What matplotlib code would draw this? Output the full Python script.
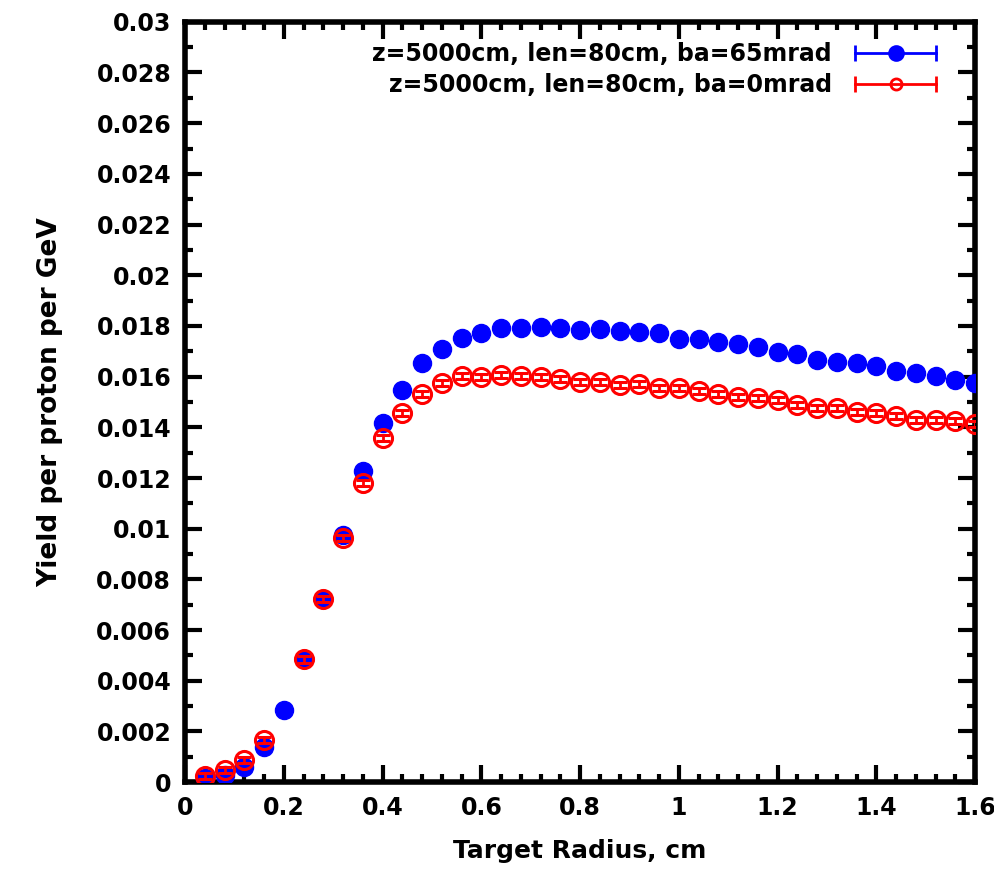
import matplotlib
matplotlib.use('Agg')
import numpy as np
import matplotlib.pyplot as plt
from matplotlib.lines import Line2D
from matplotlib.legend_handler import HandlerLine2D, HandlerTuple
from matplotlib.ticker import MultipleLocator, FuncFormatter

# target radius [cm]
radius = [0.04, 0.08, 0.12, 0.16, 0.20, 0.24, 0.28, 0.32, 0.36, 0.40,
          0.44, 0.48, 0.52, 0.56, 0.60, 0.64, 0.68, 0.72, 0.76, 0.80,
          0.84, 0.88, 0.92, 0.96, 1.00, 1.04, 1.08, 1.12, 1.16, 1.20,
          1.24, 1.28, 1.32, 1.36, 1.40, 1.44, 1.48, 1.52, 1.56, 1.60]

# yield per proton per GeV, ba=65mrad
yield_65 = [0.00015, 0.00028, 0.00058, 0.00139, 0.00284, 0.00484, 0.00721, 0.00975, 0.01229, 0.01416,
            0.01547, 0.01653, 0.01709, 0.01751, 0.01771, 0.01791, 0.01791, 0.01795, 0.01791, 0.01783,
            0.01787, 0.01780, 0.01778, 0.01771, 0.01748, 0.01748, 0.01736, 0.01728, 0.01718, 0.01696,
            0.01689, 0.01666, 0.01659, 0.01653, 0.01642, 0.01624, 0.01613, 0.01603, 0.01587, 0.01574]

# yield per proton per GeV, ba=0mrad (no point at 0.20)
yield_0 = [0.00024, 0.00047, 0.00087, 0.00168, np.nan, 0.00484, 0.00721, 0.00962, 0.01182, 0.01357,
           0.01455, 0.01530, 0.01574, 0.01603, 0.01600, 0.01607, 0.01603, 0.01597, 0.01592, 0.01580,
           0.01580, 0.01567, 0.01570, 0.01554, 0.01554, 0.01545, 0.01532, 0.01521, 0.01517, 0.01508,
           0.01488, 0.01475, 0.01475, 0.01462, 0.01455, 0.01446, 0.01429, 0.01429, 0.01426, 0.01413]

yerr_65 = [0.00012] * len(radius)
yerr_0 = [0.00012] * len(radius)

label_65 = 'z=5000cm, len=80cm, ba=65mrad'
label_0 = 'z=5000cm, len=80cm, ba=0mrad'

plt.rcParams['font.family'] = ['DejaVu Sans']
plt.rcParams['font.weight'] = 'bold'

fig = plt.figure(figsize=(9.95, 8.71), dpi=100)
ax = fig.add_axes([0.186, 0.102, 0.794, 0.873])

ax.errorbar(radius, yield_65, yerr=yerr_65, fmt='o', color='#0000ff', ms=13,
            mec='#0000ff', mfc='#0000ff', elinewidth=2, capsize=5, capthick=2, zorder=3)
ax.errorbar(radius, yield_0, yerr=yerr_0, fmt='o', color='#ff0000', ms=13,
            mec='#ff0000', mfc='none', mew=2.2, elinewidth=2, capsize=5, capthick=2, zorder=4)

ax.set_xlim(0, 1.6)
ax.set_ylim(0, 0.03)
ax.xaxis.set_major_locator(MultipleLocator(0.2))
ax.xaxis.set_minor_locator(MultipleLocator(0.04))
ax.yaxis.set_major_locator(MultipleLocator(0.002))
ax.yaxis.set_minor_locator(MultipleLocator(0.001))
ax.xaxis.set_major_formatter(FuncFormatter(lambda v, p: '{:g}'.format(round(v, 3))))
ax.yaxis.set_major_formatter(FuncFormatter(lambda v, p: '{:g}'.format(round(v, 4))))

for sp in ax.spines.values():
    sp.set_linewidth(4)
ax.tick_params(axis='both', which='major', direction='in', length=12, width=3,
               top=True, right=True, labelsize=17, pad=10)
ax.tick_params(axis='both', which='minor', direction='in', length=6, width=3,
               top=True, right=True)

ax.set_xlabel('Target Radius, cm', fontsize=18, fontweight='bold', labelpad=14)
ax.set_ylabel('Yield per proton per GeV', fontsize=19, fontweight='bold', labelpad=24)

# gnuplot style key: label then error-bar sample
def key_handles(color, filled):
    bar = Line2D([], [], color=color, lw=2, marker='|', ms=12, mew=2)
    dot = Line2D([], [], color=color, lw=0, marker='o', ms=10 if filled else 8,
                 mfc=color if filled else 'none', mec=color, mew=2)
    return bar, dot

bar65, dot65 = key_handles('#0000ff', True)
bar0, dot0 = key_handles('#ff0000', False)
hmap = {bar65: HandlerLine2D(numpoints=2), bar0: HandlerLine2D(numpoints=2),
        dot65: HandlerLine2D(numpoints=1), dot0: HandlerLine2D(numpoints=1),
        tuple: HandlerTuple(ndivide=1, pad=0)}
ax.legend([(bar65, dot65), (bar0, dot0)], [label_65, label_0], handler_map=hmap,
          loc='upper right', frameon=False, markerfirst=False, fontsize=17,
          handlelength=4.0, handletextpad=0.7, labelspacing=0.3,
          bbox_to_anchor=(0.98, 0.995), borderaxespad=0.3)

fig.savefig('out.png', dpi=100)
